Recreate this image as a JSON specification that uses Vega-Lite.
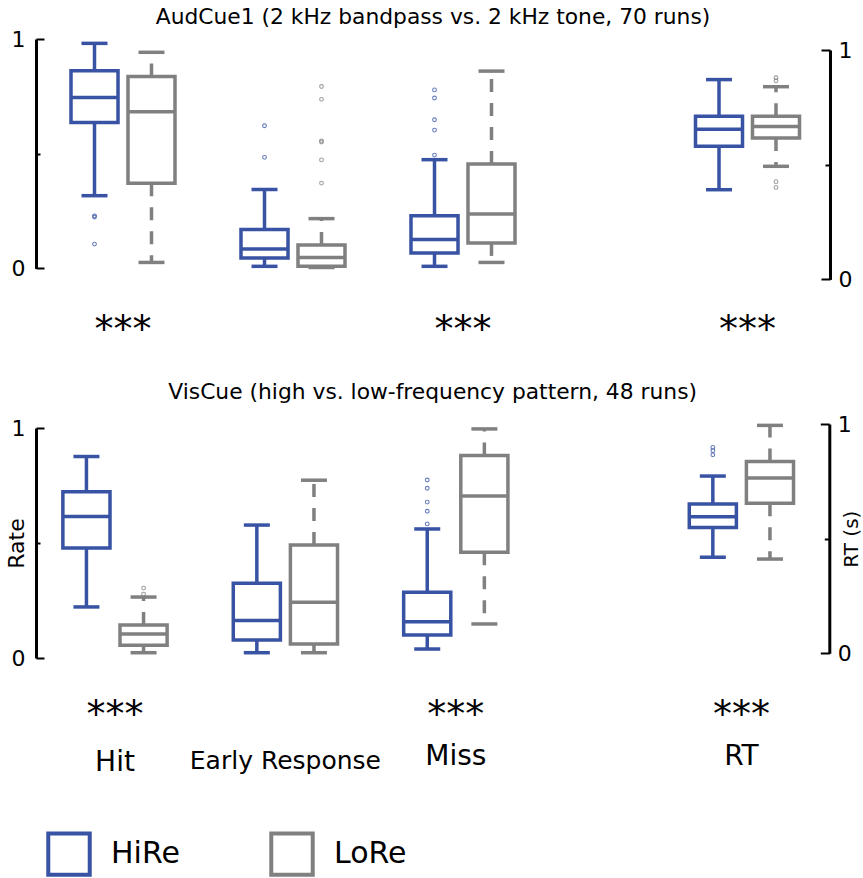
{
  "$schema": "https://vega.github.io/schema/vega-lite/v6.json",
  "padding": {"left": 5, "top": 7, "right": 0, "bottom": 0},
  "datasets": {
    "aud_box": [
      {"measure": "Hit", "group": "HiRe", "lo": 0.317, "q1": 0.636, "med": 0.745, "q3": 0.862, "hi": 0.981},
      {"measure": "Hit", "group": "LoRe", "lo": 0.026, "q1": 0.371, "med": 0.683, "q3": 0.837, "hi": 0.942},
      {"measure": "Early Response", "group": "HiRe", "lo": 0.009, "q1": 0.045, "med": 0.085, "q3": 0.170, "hi": 0.344},
      {"measure": "Early Response", "group": "LoRe", "lo": 0.004, "q1": 0.009, "med": 0.048, "q3": 0.102, "hi": 0.217},
      {"measure": "Miss", "group": "HiRe", "lo": 0.009, "q1": 0.067, "med": 0.126, "q3": 0.230, "hi": 0.474},
      {"measure": "Miss", "group": "LoRe", "lo": 0.026, "q1": 0.111, "med": 0.237, "q3": 0.455, "hi": 0.860},
      {"measure": "RT", "group": "HiRe", "lo": 0.391, "q1": 0.580, "med": 0.654, "q3": 0.711, "hi": 0.871},
      {"measure": "RT", "group": "LoRe", "lo": 0.493, "q1": 0.616, "med": 0.666, "q3": 0.711, "hi": 0.840}
    ],
    "aud_out": [
      {"measure": "Hit", "group": "HiRe", "value": 0.229},
      {"measure": "Hit", "group": "HiRe", "value": 0.224},
      {"measure": "Hit", "group": "HiRe", "value": 0.106},
      {"measure": "Early Response", "group": "HiRe", "value": 0.622},
      {"measure": "Early Response", "group": "HiRe", "value": 0.484},
      {"measure": "Early Response", "group": "LoRe", "value": 0.793},
      {"measure": "Early Response", "group": "LoRe", "value": 0.737},
      {"measure": "Early Response", "group": "LoRe", "value": 0.556},
      {"measure": "Early Response", "group": "LoRe", "value": 0.551},
      {"measure": "Early Response", "group": "LoRe", "value": 0.473},
      {"measure": "Early Response", "group": "LoRe", "value": 0.372},
      {"measure": "Miss", "group": "HiRe", "value": 0.778},
      {"measure": "Miss", "group": "HiRe", "value": 0.743},
      {"measure": "Miss", "group": "HiRe", "value": 0.648},
      {"measure": "Miss", "group": "HiRe", "value": 0.603},
      {"measure": "Miss", "group": "HiRe", "value": 0.494},
      {"measure": "RT", "group": "LoRe", "value": 0.879},
      {"measure": "RT", "group": "LoRe", "value": 0.866},
      {"measure": "RT", "group": "LoRe", "value": 0.426},
      {"measure": "RT", "group": "LoRe", "value": 0.401}
    ],
    "vis_box": [
      {"measure": "Hit", "group": "HiRe", "lo": 0.222, "q1": 0.478, "med": 0.615, "q3": 0.723, "hi": 0.876},
      {"measure": "Hit", "group": "LoRe", "lo": 0.023, "q1": 0.055, "med": 0.104, "q3": 0.143, "hi": 0.265},
      {"measure": "Early Response", "group": "HiRe", "lo": 0.023, "q1": 0.078, "med": 0.163, "q3": 0.325, "hi": 0.578},
      {"measure": "Early Response", "group": "LoRe", "lo": 0.023, "q1": 0.061, "med": 0.242, "q3": 0.491, "hi": 0.773},
      {"measure": "Miss", "group": "HiRe", "lo": 0.039, "q1": 0.100, "med": 0.158, "q3": 0.286, "hi": 0.561},
      {"measure": "Miss", "group": "LoRe", "lo": 0.148, "q1": 0.460, "med": 0.704, "q3": 0.880, "hi": 0.996},
      {"measure": "RT", "group": "HiRe", "lo": 0.419, "q1": 0.549, "med": 0.596, "q3": 0.651, "hi": 0.773},
      {"measure": "RT", "group": "LoRe", "lo": 0.411, "q1": 0.654, "med": 0.765, "q3": 0.837, "hi": 0.994}
    ],
    "vis_out": [
      {"measure": "Hit", "group": "LoRe", "value": 0.304},
      {"measure": "Hit", "group": "LoRe", "value": 0.278},
      {"measure": "Miss", "group": "HiRe", "value": 0.774},
      {"measure": "Miss", "group": "HiRe", "value": 0.738},
      {"measure": "Miss", "group": "HiRe", "value": 0.678},
      {"measure": "Miss", "group": "HiRe", "value": 0.638},
      {"measure": "Miss", "group": "HiRe", "value": 0.583},
      {"measure": "RT", "group": "HiRe", "value": 0.898},
      {"measure": "RT", "group": "HiRe", "value": 0.884},
      {"measure": "RT", "group": "HiRe", "value": 0.866}
    ]
  },
  "vconcat": [
    {
      "title": {"text": "AudCue1 (2 kHz bandpass vs. 2 kHz tone, 70 runs)", "offset": -1},
      "width": 794,
      "height": 240.4,
      "layer": [
        {
          "data": {"name": "aud_box"},
          "transform": [{"filter": "datum.measure !== 'RT'"}],
          "encoding": {
            "x": {"field": "measure", "type": "nominal", "scale": {"domain": ["Hit", "Early Response", "Miss"], "range": [2, 512], "paddingInner": 0, "paddingOuter": 0},
                  "axis": {"orient": "bottom", "title": null, "domain": false, "ticks": false, "labelAngle": 0, "labelOverlap": false, "labelExpr": "datum.value == 'Early Response' ? '' : '***'", "labelFontSize": 38, "labelPadding": 32}},
            "xOffset": {"field": "group", "type": "nominal", "scale": {"domain": ["HiRe", "LoRe"], "paddingInner": 0.175, "paddingOuter": 0.579}},
            "color": {"field": "group", "type": "nominal", "scale": {"domain": ["HiRe", "LoRe"], "range": ["#3953a4", "#808080"]},
                      "legend": {"title": null, "orient": "none", "legendX": 10, "legendY": 792, "direction": "horizontal", "symbolType": "square", "symbolSize": 1720, "symbolStrokeWidth": 4, "symbolFillColor": "white", "labelFontSize": 30, "labelOffset": 19, "columnPadding": 83}}
          },
          "layer": [
            {"mark": {"type": "rule", "strokeWidth": 3.5},
             "encoding": {"y": {"field": "q3", "type": "quantitative", "scale": {"domain": [0, 1], "range": [229.4, 0]},
                                "axis": {"orient": "left", "title": null, "values": [0, 0.5, 1], "labelExpr": "datum.value == 1 ? '1' : (datum.value == 0 ? '0' : '')", "tickSize": {"condition": {"test": "datum.value == 0.5", "value": -4}, "value": -8}, "labelPadding": 19}},
                          "y2": {"field": "hi"},
                          "strokeDash": {"condition": {"test": "datum.group == 'LoRe'", "value": [13, 11]}, "value": [1, 0]}}},
            {"mark": {"type": "rule", "strokeWidth": 3.5},
             "encoding": {"y": {"field": "q1", "type": "quantitative"}, "y2": {"field": "lo"},
                          "strokeDash": {"condition": {"test": "datum.group == 'LoRe'", "value": [13, 11]}, "value": [1, 0]}}},
            {"mark": {"type": "bar", "filled": false, "strokeWidth": 3.5},
             "encoding": {"y": {"field": "q1", "type": "quantitative"}, "y2": {"field": "q3"}}},
            {"mark": {"type": "tick", "filled": false, "size": 45, "thickness": 1.5, "strokeWidth": 2, "opacity": 1},
             "encoding": {"y": {"field": "med", "type": "quantitative"}}},
            {"mark": {"type": "tick", "filled": false, "size": 24, "thickness": 1.5, "strokeWidth": 2, "opacity": 1},
             "encoding": {"y": {"field": "hi", "type": "quantitative"}}},
            {"mark": {"type": "tick", "filled": false, "size": 24, "thickness": 1.5, "strokeWidth": 2, "opacity": 1},
             "encoding": {"y": {"field": "lo", "type": "quantitative"}}},
            {"data": {"name": "aud_out"},
             "transform": [{"filter": "datum.measure !== 'RT'"}],
             "mark": {"type": "point", "filled": false, "size": 14, "strokeWidth": 1.1, "opacity": 0.75},
             "encoding": {"y": {"field": "value", "type": "quantitative"}}}
          ]
        },
        {
          "data": {"name": "aud_box"},
          "transform": [{"filter": "datum.measure === 'RT'"}],
          "encoding": {
            "x": {"field": "measure", "type": "nominal", "scale": {"domain": ["RT"], "range": [626.5, 796.5], "paddingInner": 0, "paddingOuter": 0},
                  "axis": {"orient": "bottom", "title": null, "domain": false, "ticks": false, "labelAngle": 0, "labelOverlap": false, "labelExpr": "'***'", "labelFontSize": 38, "labelPadding": 32}},
            "xOffset": {"field": "group", "type": "nominal", "scale": {"domain": ["HiRe", "LoRe"], "paddingInner": 0.175, "paddingOuter": 0.579}},
            "color": {"field": "group", "type": "nominal", "scale": {"domain": ["HiRe", "LoRe"], "range": ["#3953a4", "#808080"]},
                      "legend": {"title": null, "orient": "none", "legendX": 10, "legendY": 792, "direction": "horizontal", "symbolType": "square", "symbolSize": 1720, "symbolStrokeWidth": 4, "symbolFillColor": "white", "labelFontSize": 30, "labelOffset": 19, "columnPadding": 83}}
          },
          "layer": [
            {"mark": {"type": "rule", "strokeWidth": 3.5},
             "encoding": {"y": {"field": "q3", "type": "quantitative", "scale": {"domain": [0, 1], "range": [240.4, 11]},
                                "axis": {"orient": "right", "title": null, "values": [0, 0.5, 1], "labelExpr": "datum.value == 1 ? '1' : (datum.value == 0 ? '0' : '')", "tickSize": {"condition": {"test": "datum.value == 0.5", "value": -5}, "value": -9}, "labelPadding": 17}},
                          "y2": {"field": "hi"},
                          "strokeDash": {"condition": {"test": "datum.group == 'LoRe'", "value": [13, 11]}, "value": [1, 0]}}},
            {"mark": {"type": "rule", "strokeWidth": 3.5},
             "encoding": {"y": {"field": "q1", "type": "quantitative"}, "y2": {"field": "lo"},
                          "strokeDash": {"condition": {"test": "datum.group == 'LoRe'", "value": [13, 11]}, "value": [1, 0]}}},
            {"mark": {"type": "bar", "filled": false, "strokeWidth": 3.5},
             "encoding": {"y": {"field": "q1", "type": "quantitative"}, "y2": {"field": "q3"}}},
            {"mark": {"type": "tick", "filled": false, "size": 45, "thickness": 1.5, "strokeWidth": 2, "opacity": 1},
             "encoding": {"y": {"field": "med", "type": "quantitative"}}},
            {"mark": {"type": "tick", "filled": false, "size": 24, "thickness": 1.5, "strokeWidth": 2, "opacity": 1},
             "encoding": {"y": {"field": "hi", "type": "quantitative"}}},
            {"mark": {"type": "tick", "filled": false, "size": 24, "thickness": 1.5, "strokeWidth": 2, "opacity": 1},
             "encoding": {"y": {"field": "lo", "type": "quantitative"}}},
            {"data": {"name": "aud_out"},
             "transform": [{"filter": "datum.measure === 'RT'"}],
             "mark": {"type": "point", "filled": false, "size": 14, "strokeWidth": 1.1, "opacity": 0.75},
             "encoding": {"y": {"field": "value", "type": "quantitative"}}}
          ]
        }
      ],
      "resolve": {"scale": {"x": "independent", "y": "independent", "xOffset": "independent"}, "axis": {"x": "independent", "y": "independent"}}
    },
    {
      "title": {"text": "VisCue (high vs. low-frequency pattern, 48 runs)", "offset": 9},
      "width": 793.3,
      "height": 234,
      "layer": [
        {
          "data": {"name": "vis_box"},
          "transform": [{"filter": "datum.measure !== 'RT'"}],
          "encoding": {
            "x": {"field": "measure", "type": "nominal", "scale": {"domain": ["Hit", "Early Response", "Miss"], "range": [-6.2, 505], "paddingInner": 0, "paddingOuter": 0}, "axis": null},
            "xOffset": {"field": "group", "type": "nominal", "scale": {"domain": ["HiRe", "LoRe"], "paddingInner": 0.175, "paddingOuter": 0.579}},
            "color": {"field": "group", "type": "nominal", "scale": {"domain": ["HiRe", "LoRe"], "range": ["#3953a4", "#808080"]},
                      "legend": {"title": null, "orient": "none", "legendX": 10, "legendY": 792, "direction": "horizontal", "symbolType": "square", "symbolSize": 1720, "symbolStrokeWidth": 4, "symbolFillColor": "white", "labelFontSize": 30, "labelOffset": 19, "columnPadding": 83}}
          },
          "layer": [
            {"mark": {"type": "rule", "strokeWidth": 3.5},
             "encoding": {"x": {"field": "measure", "type": "nominal", "scale": {"domain": ["Hit", "Early Response", "Miss"], "range": [-6.2, 505], "paddingInner": 0, "paddingOuter": 0},
                                "axis": {"orient": "bottom", "title": null, "domain": false, "ticks": false, "labelAngle": 0, "labelOverlap": false, "labelExpr": "datum.value == 'Early Response' ? '' : '***'", "labelFontSize": 38, "labelPadding": 38}},
                          "y": {"field": "q3", "type": "quantitative", "scale": {"domain": [0, 1], "range": [234, 4]},
                                "axis": {"orient": "left", "title": "Rate", "titlePadding": -17, "values": [0, 0.5, 1], "labelExpr": "datum.value == 1 ? '1' : (datum.value == 0 ? '0' : '')", "tickSize": {"condition": {"test": "datum.value == 0.5", "value": -4}, "value": -8}, "labelPadding": 19}},
                          "y2": {"field": "hi"},
                          "strokeDash": {"condition": {"test": "datum.group == 'LoRe'", "value": [13, 11]}, "value": [1, 0]}}},
            {"mark": {"type": "rule", "strokeWidth": 3.5},
             "encoding": {"y": {"field": "q1", "type": "quantitative"}, "y2": {"field": "lo"},
                          "strokeDash": {"condition": {"test": "datum.group == 'LoRe'", "value": [13, 11]}, "value": [1, 0]}}},
            {"mark": {"type": "bar", "filled": false, "strokeWidth": 3.5},
             "encoding": {"x": {"field": "measure", "type": "nominal", "scale": {"domain": ["Hit", "Early Response", "Miss"], "range": [-6.2, 505], "paddingInner": 0, "paddingOuter": 0},
                                "axis": {"orient": "bottom", "title": null, "domain": false, "ticks": false, "labelAngle": 0, "labelOverlap": false, "labelLimit": 0, "labelExpr": "datum.value", "labelFontSize": {"condition": {"test": "datum.value == 'Early Response'", "value": 25}, "value": 28}, "labelPadding": {"condition": {"test": "datum.value == 'Miss'", "value": 84}, "value": 90}}},
                          "y": {"field": "q1", "type": "quantitative"}, "y2": {"field": "q3"}}},
            {"mark": {"type": "tick", "filled": false, "size": 45, "thickness": 1.5, "strokeWidth": 2, "opacity": 1},
             "encoding": {"y": {"field": "med", "type": "quantitative"}}},
            {"mark": {"type": "tick", "filled": false, "size": 24, "thickness": 1.5, "strokeWidth": 2, "opacity": 1},
             "encoding": {"y": {"field": "hi", "type": "quantitative"}}},
            {"mark": {"type": "tick", "filled": false, "size": 24, "thickness": 1.5, "strokeWidth": 2, "opacity": 1},
             "encoding": {"y": {"field": "lo", "type": "quantitative"}}},
            {"data": {"name": "vis_out"},
             "transform": [{"filter": "datum.measure !== 'RT'"}],
             "mark": {"type": "point", "filled": false, "size": 14, "strokeWidth": 1.1, "opacity": 0.75},
             "encoding": {"y": {"field": "value", "type": "quantitative"}}}
          ],
          "resolve": {"axis": {"x": "independent"}}
        },
        {
          "data": {"name": "vis_box"},
          "transform": [{"filter": "datum.measure === 'RT'"}],
          "encoding": {
            "x": {"field": "measure", "type": "nominal", "scale": {"domain": ["RT"], "range": [620.2, 790.6], "paddingInner": 0, "paddingOuter": 0}, "axis": null},
            "xOffset": {"field": "group", "type": "nominal", "scale": {"domain": ["HiRe", "LoRe"], "paddingInner": 0.175, "paddingOuter": 0.579}},
            "color": {"field": "group", "type": "nominal", "scale": {"domain": ["HiRe", "LoRe"], "range": ["#3953a4", "#808080"]},
                      "legend": {"title": null, "orient": "none", "legendX": 10, "legendY": 792, "direction": "horizontal", "symbolType": "square", "symbolSize": 1720, "symbolStrokeWidth": 4, "symbolFillColor": "white", "labelFontSize": 30, "labelOffset": 19, "columnPadding": 83}}
          },
          "layer": [
            {"mark": {"type": "rule", "strokeWidth": 3.5},
             "encoding": {"x": {"field": "measure", "type": "nominal", "scale": {"domain": ["RT"], "range": [620.2, 790.6], "paddingInner": 0, "paddingOuter": 0},
                                "axis": {"orient": "bottom", "title": null, "domain": false, "ticks": false, "labelAngle": 0, "labelOverlap": false, "labelExpr": "'***'", "labelFontSize": 38, "labelPadding": 38}},
                          "y": {"field": "q3", "type": "quantitative", "scale": {"domain": [0, 1], "range": [229.3, 0]},
                                "axis": {"orient": "right", "title": "RT (s)", "titleFontSize": 20, "titleAngle": 270, "titleBaseline": "top", "titlePadding": -10, "values": [0, 0.5, 1], "labelExpr": "datum.value == 1 ? '1' : (datum.value == 0 ? '0' : '')", "tickSize": {"condition": {"test": "datum.value == 0.5", "value": -5}, "value": -9}, "labelPadding": 17}},
                          "y2": {"field": "hi"},
                          "strokeDash": {"condition": {"test": "datum.group == 'LoRe'", "value": [13, 11]}, "value": [1, 0]}}},
            {"mark": {"type": "rule", "strokeWidth": 3.5},
             "encoding": {"y": {"field": "q1", "type": "quantitative"}, "y2": {"field": "lo"},
                          "strokeDash": {"condition": {"test": "datum.group == 'LoRe'", "value": [13, 11]}, "value": [1, 0]}}},
            {"mark": {"type": "bar", "filled": false, "strokeWidth": 3.5},
             "encoding": {"x": {"field": "measure", "type": "nominal", "scale": {"domain": ["RT"], "range": [620.2, 790.6], "paddingInner": 0, "paddingOuter": 0},
                                "axis": {"orient": "bottom", "title": null, "domain": false, "ticks": false, "labelAngle": 0, "labelOverlap": false, "labelExpr": "datum.value", "labelFontSize": 28, "labelPadding": 84}},
                          "y": {"field": "q1", "type": "quantitative"}, "y2": {"field": "q3"}}},
            {"mark": {"type": "tick", "filled": false, "size": 45, "thickness": 1.5, "strokeWidth": 2, "opacity": 1},
             "encoding": {"y": {"field": "med", "type": "quantitative"}}},
            {"mark": {"type": "tick", "filled": false, "size": 24, "thickness": 1.5, "strokeWidth": 2, "opacity": 1},
             "encoding": {"y": {"field": "hi", "type": "quantitative"}}},
            {"mark": {"type": "tick", "filled": false, "size": 24, "thickness": 1.5, "strokeWidth": 2, "opacity": 1},
             "encoding": {"y": {"field": "lo", "type": "quantitative"}}},
            {"data": {"name": "vis_out"},
             "transform": [{"filter": "datum.measure === 'RT'"}],
             "mark": {"type": "point", "filled": false, "size": 14, "strokeWidth": 1.1, "opacity": 0.75},
             "encoding": {"y": {"field": "value", "type": "quantitative"}}}
          ],
          "resolve": {"axis": {"x": "independent"}}
        }
      ],
      "resolve": {"scale": {"x": "independent", "y": "independent", "xOffset": "independent"}, "axis": {"x": "independent", "y": "independent"}}
    }
  ],
  "spacing": 32,
  "config": {
    "font": "DejaVu Sans",
    "view": {"stroke": null},
    "title": {"fontSize": 21.8, "fontWeight": "normal", "color": "black", "font": "DejaVu Sans"},
    "axis": {"labelFont": "DejaVu Sans", "titleFont": "DejaVu Sans", "labelColor": "black", "titleColor": "black", "titleFontWeight": "normal", "titleFontSize": 22},
    "axisY": {"tickWidth": 2, "tickColor": "black", "domainColor": "black", "domainWidth": 3, "labelFontSize": 22, "grid": false},
    "legend": {"labelFont": "DejaVu Sans", "labelColor": "black"}
  }
}
